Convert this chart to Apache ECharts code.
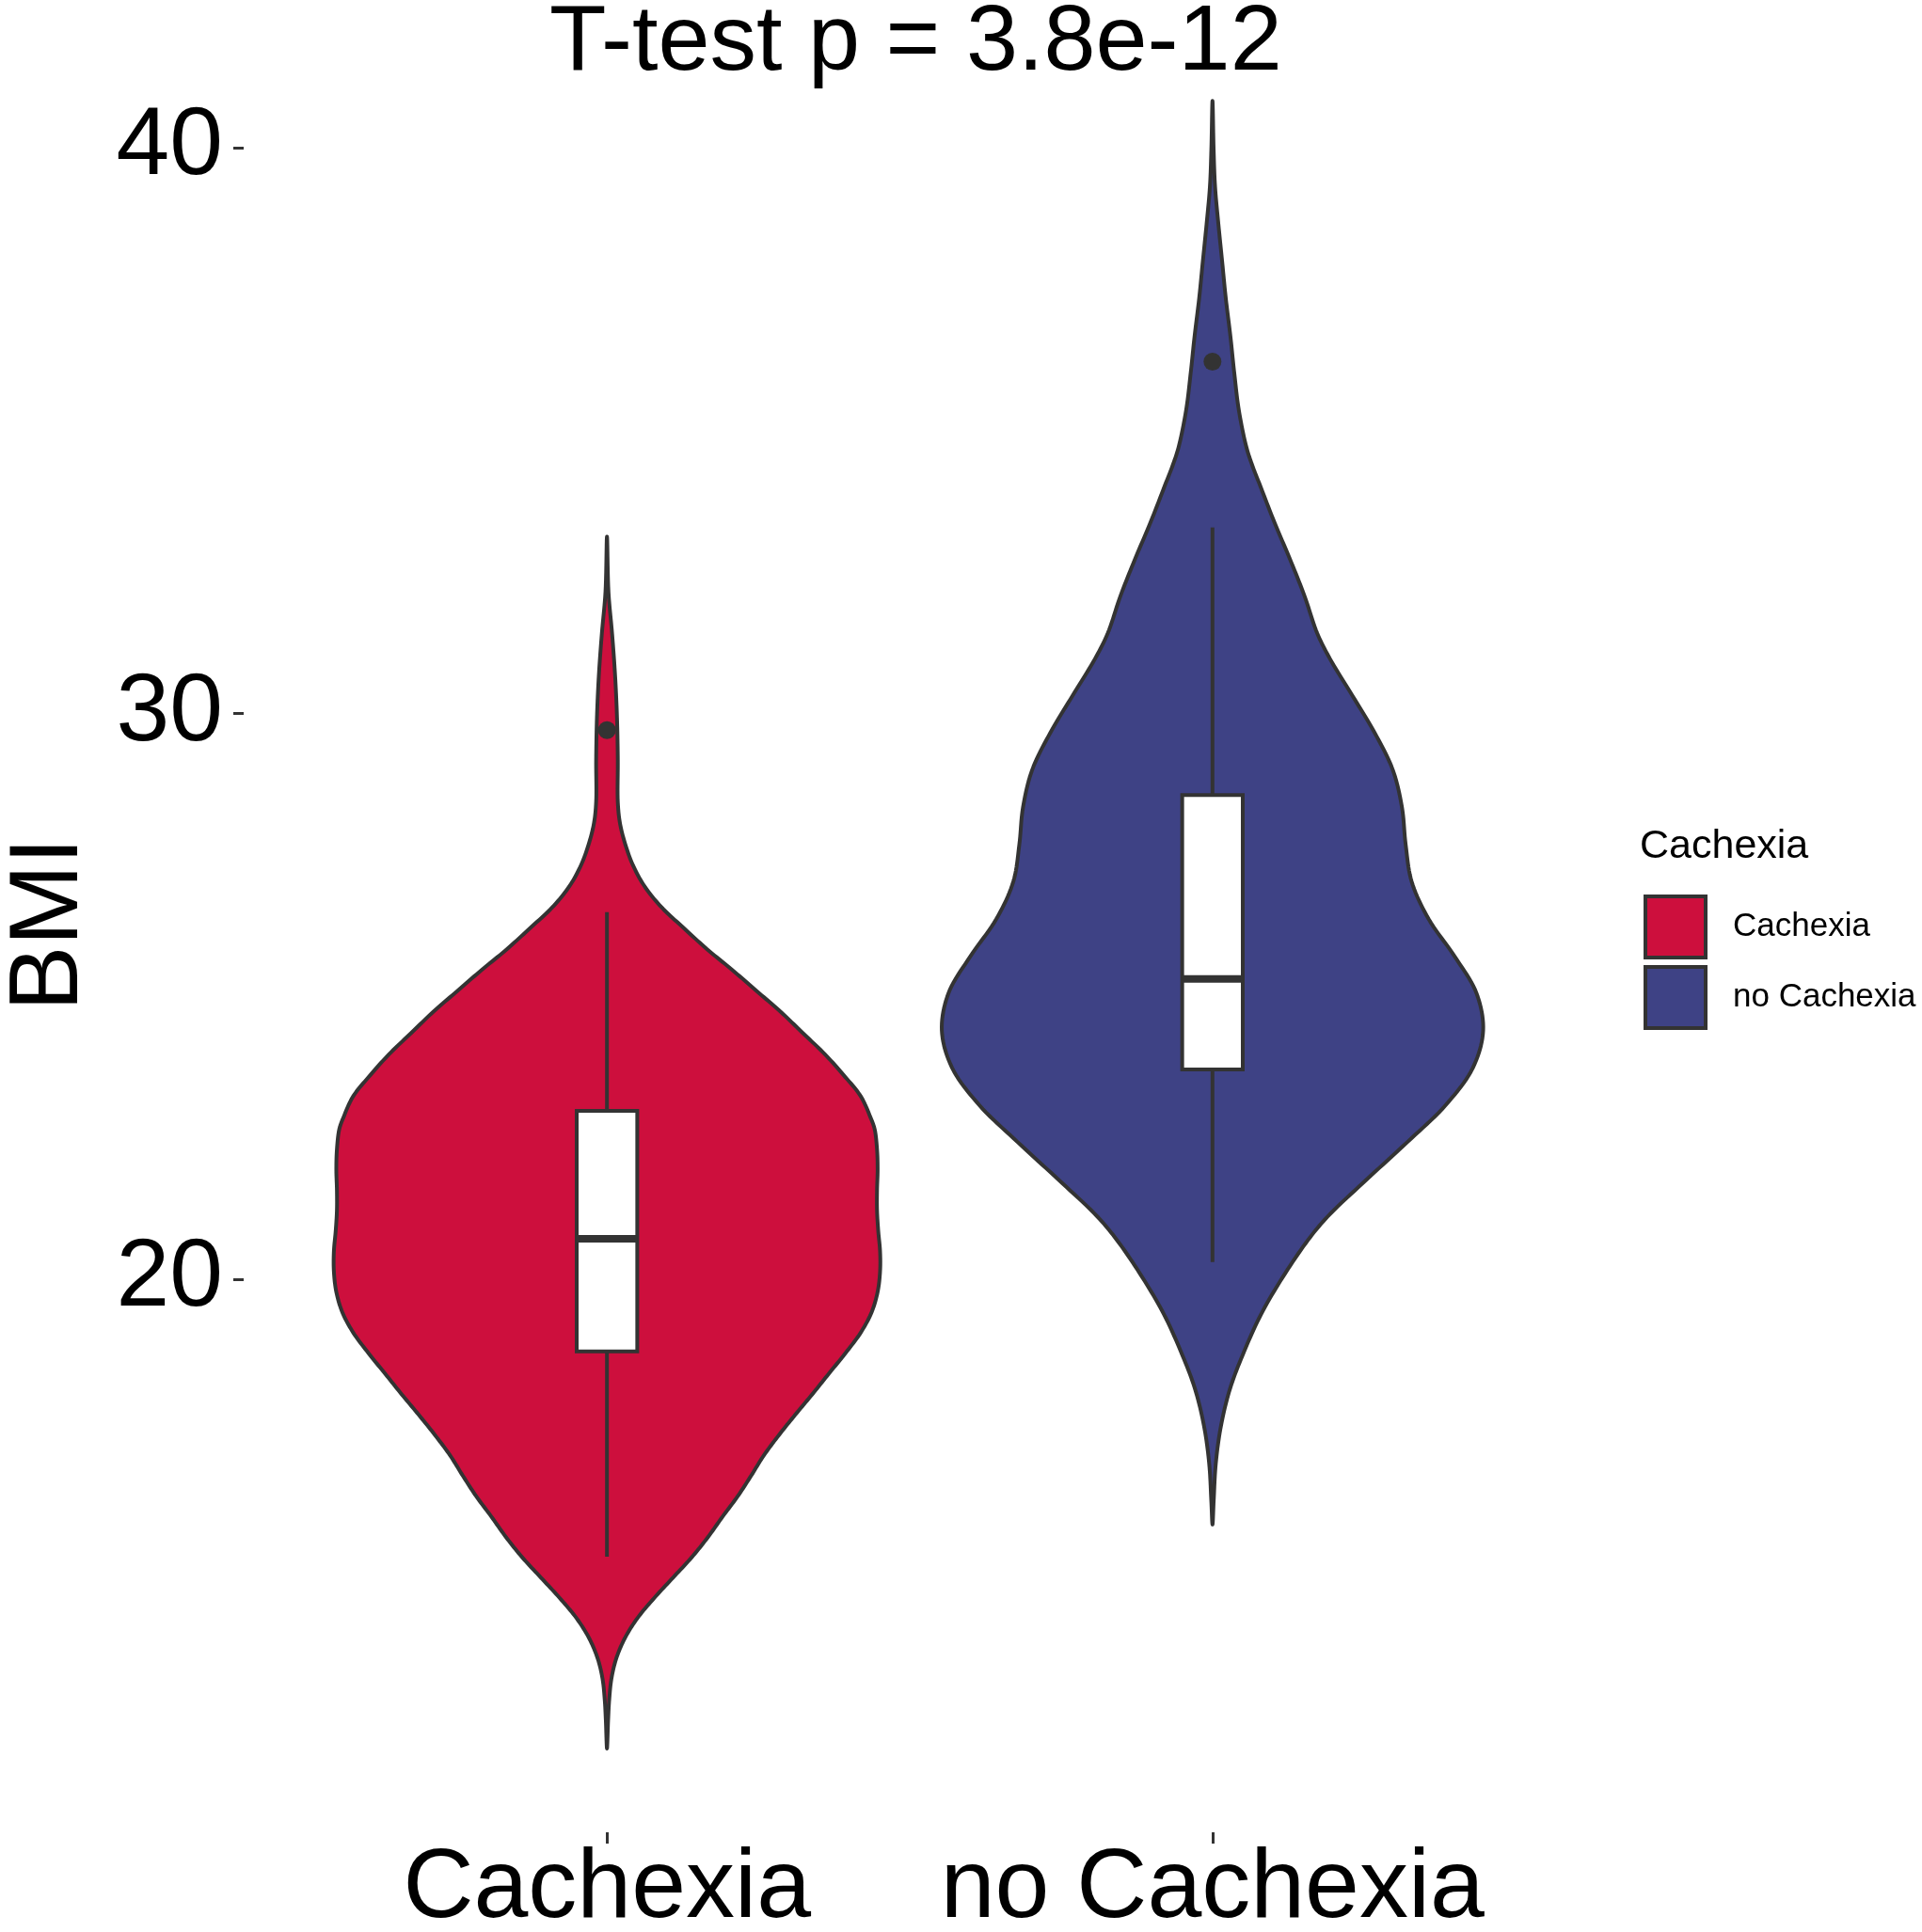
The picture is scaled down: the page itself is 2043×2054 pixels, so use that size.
<!DOCTYPE html>
<html>
<head>
<meta charset="utf-8">
<title>BMI violin</title>
<script src="https://cdn.jsdelivr.net/npm/echarts@6/dist/echarts.min.js"></script>
<style>
  html, body { margin: 0; padding: 0; background: #fff; }
  #chart { width: 2043px; height: 2054px; }
</style>
</head>
<body>
<div id="chart"></div>
<script>
// groups on the x axis (positions 1 and 2)
const groups = ['Cachexia', 'no Cachexia'];
const yTicks = [20, 30, 40];

// violin outlines: BMI level -> half width (x units)
const cachexiaBmi = [11.71, 12.21, 12.57, 12.94, 13.29, 13.65, 14.01, 14.37, 14.73, 15.09,
  15.45, 15.81, 16.17, 16.53, 16.89, 17.25, 17.61, 17.97, 18.33, 18.70, 19.06, 19.42, 19.78,
  20.14, 20.50, 20.86, 21.22, 21.58, 21.94, 22.30, 22.66, 22.87, 23.24, 23.61, 23.98, 24.36,
  24.73, 25.10, 25.47, 25.84, 26.21, 26.58, 26.95, 27.32, 27.70, 28.07, 28.44, 29.18, 29.92,
  30.66, 31.41, 32.15, 33.13];
const cachexiaHalfWidth = [0, 0.0019, 0.0037, 0.0073, 0.015, 0.029, 0.050, 0.078, 0.109, 0.140,
  0.167, 0.191, 0.216, 0.238, 0.259, 0.284, 0.311, 0.339, 0.366, 0.394, 0.419, 0.437, 0.447,
  0.451, 0.451, 0.448, 0.446, 0.446, 0.447, 0.446, 0.442, 0.435, 0.419, 0.391, 0.360, 0.323,
  0.287, 0.247, 0.207, 0.165, 0.127, 0.090, 0.062, 0.043, 0.030, 0.0214, 0.0179, 0.0179, 0.0166,
  0.0135, 0.0085, 0.0025, 0];

const noCachexiaBmi = [15.67, 16.09, 16.75, 17.41, 18.07, 18.72, 19.38, 20.04, 20.70, 21.11,
  21.77, 22.43, 23.08, 23.74, 24.40, 25.06, 25.71, 26.37, 27.03, 27.69, 28.34, 29.00, 29.66,
  30.32, 30.97, 31.42, 32.08, 32.73, 33.39, 34.05, 34.38, 34.71, 35.36, 36.02, 36.68, 37.34,
  37.99, 38.65, 39.31, 39.97, 40.83];
const noCachexiaHalfWidth = [0, 0.002, 0.0055, 0.014, 0.029, 0.052, 0.080, 0.116, 0.158, 0.19,
  0.255, 0.322, 0.385, 0.430, 0.447, 0.436, 0.400, 0.357, 0.329, 0.319, 0.313, 0.298, 0.268,
  0.231, 0.194, 0.173, 0.152, 0.128, 0.102, 0.078, 0.066, 0.056, 0.0436, 0.036, 0.0295, 0.022,
  0.016, 0.0098, 0.0043, 0.0019, 0];

// boxplot stats per group: [lower whisker, Q1, median, Q3, upper whisker]
const cachexiaBox = [15.10, 18.73, 20.72, 22.98, 26.49];
const noCachexiaBox = [20.31, 23.71, 25.31, 28.56, 33.29];
const cachexiaOutliers = [29.71];
const noCachexiaOutliers = [36.22];

const violins = [
  { bmi: cachexiaBmi, hw: cachexiaHalfWidth, box: cachexiaBox, out: cachexiaOutliers },
  { bmi: noCachexiaBmi, hw: noCachexiaHalfWidth, box: noCachexiaBox, out: noCachexiaOutliers }
];

const fillColors = ['#CD0F3D', '#3E4285'];
const lineColor = '#333333';
const font = '"Liberation Sans", Arial, sans-serif';

// closed centripetal Catmull-Rom curve through the projected outline points (drawing only)
function smoothLoop(pts, steps) {
  const n = pts.length, out = [];
  const lerp = (a, b, ta, tb, t) => [0, 1].map(k => ((tb - t) * a[k] + (t - ta) * b[k]) / (tb - ta));
  const knot = (a, b) => Math.max(Math.sqrt(Math.hypot(b[0] - a[0], b[1] - a[1])), 1e-3);
  for (let i = 0; i < n; i++) {
    const p0 = pts[(i - 1 + n) % n], p1 = pts[i], p2 = pts[(i + 1) % n], p3 = pts[(i + 2) % n];
    const t0 = 0, t1 = t0 + knot(p0, p1), t2 = t1 + knot(p1, p2), t3 = t2 + knot(p2, p3);
    for (let s = 0; s < steps; s++) {
      const t = t1 + (t2 - t1) * s / steps;
      const a1 = lerp(p0, p1, t0, t1, t), a2 = lerp(p1, p2, t1, t2, t), a3 = lerp(p2, p3, t2, t3, t);
      const b1 = lerp(a1, a2, t0, t2, t), b2 = lerp(a2, a3, t1, t3, t);
      out.push(lerp(b1, b2, t1, t2, t));
    }
  }
  return out;
}

function renderViolin(params, api) {
  const g = violins[params.seriesIndex];
  const xc = api.value(0);
  const right = g.bmi.map((b, i) => api.coord([xc + g.hw[i], b]));
  const left = [];
  for (let i = g.bmi.length - 2; i >= 1; i--) left.push(api.coord([xc - g.hw[i], g.bmi[i]]));
  const pts = smoothLoop(right.concat(left), 10);

  const [wLo, q1, med, q3, wHi] = g.box;
  const bw = 0.05;
  const p = (x, y) => api.coord([x, y]);
  const tl = p(xc - bw, q3), br = p(xc + bw, q1);
  const children = [
    { type: 'polygon', shape: { points: pts },
      style: { fill: fillColors[params.seriesIndex], stroke: lineColor, lineWidth: 4, lineJoin: 'round' } },
    { type: 'line', shape: { x1: p(xc, wHi)[0], y1: p(xc, wHi)[1], x2: p(xc, q3)[0], y2: p(xc, q3)[1] },
      style: { stroke: lineColor, lineWidth: 4 } },
    { type: 'line', shape: { x1: p(xc, q1)[0], y1: p(xc, q1)[1], x2: p(xc, wLo)[0], y2: p(xc, wLo)[1] },
      style: { stroke: lineColor, lineWidth: 4 } },
    { type: 'rect', shape: { x: tl[0], y: tl[1], width: br[0] - tl[0], height: br[1] - tl[1] },
      style: { fill: '#ffffff', stroke: lineColor, lineWidth: 4 } },
    { type: 'line', shape: { x1: p(xc - bw, med)[0], y1: p(xc, med)[1], x2: p(xc + bw, med)[0], y2: p(xc, med)[1] },
      style: { stroke: lineColor, lineWidth: 8 } }
  ];
  g.out.forEach(v => {
    const c = p(xc, v);
    children.push({ type: 'circle', shape: { cx: c[0], cy: c[1], r: 9.5 }, style: { fill: lineColor } });
  });
  return { type: 'group', children };
}

const chart = echarts.init(document.getElementById('chart'));
chart.setOption({
  animation: false,
  backgroundColor: '#ffffff',
  title: [
    { text: 'T-test p = 3.8e-12', left: 584, top: -3, padding: 0,
      textStyle: { fontFamily: font, fontSize: 99, fontWeight: 'normal', color: '#000' } },
    { text: 'Cachexia', left: 1743, top: 879, padding: 0,
      textStyle: { fontFamily: font, fontSize: 43, fontWeight: 'normal', color: '#000' } }
  ],
  legend: {
    orient: 'vertical', left: 1747, top: 951, padding: 0,
    itemWidth: 64, itemHeight: 65, itemGap: 6, icon: 'rect', selectedMode: false,
    data: groups,
    itemStyle: { borderColor: lineColor, borderWidth: 4 },
    textStyle: { fontFamily: font, fontSize: 35, color: '#000', padding: [0, 0, 0, 24] }
  },
  grid: { left: 259, right: 368, top: 17, bottom: 106, containLabel: false, outerBoundsMode: 'none' },
  xAxis: {
    type: 'value', min: 0.4, max: 2.6,
    axisLine: { show: false }, splitLine: { show: false },
    axisTick: { show: true, length: 12, customValues: [1, 2], lineStyle: { color: lineColor, width: 3 } },
    axisLabel: { customValues: [1, 2], margin: 9, formatter: v => groups[Math.round(v) - 1],
      fontFamily: font, fontSize: 104, color: '#000' }
  },
  yAxis: {
    type: 'value', min: 10.23, max: 42.33,
    name: 'BMI', nameLocation: 'middle', nameRotate: 90, nameGap: 154,
    nameTextStyle: { fontFamily: font, fontSize: 104, color: '#000' },
    axisLine: { show: false }, splitLine: { show: false },
    axisTick: { show: true, length: 11, customValues: yTicks, lineStyle: { color: lineColor, width: 3 } },
    axisLabel: { customValues: yTicks, margin: 22, fontFamily: font, fontSize: 102, color: '#000' }
  },
  series: groups.map((name, i) => ({
    name, type: 'custom', renderItem: renderViolin,
    itemStyle: { color: fillColors[i] },
    data: [[i + 1]]
  }))
});
</script>
</body>
</html>
